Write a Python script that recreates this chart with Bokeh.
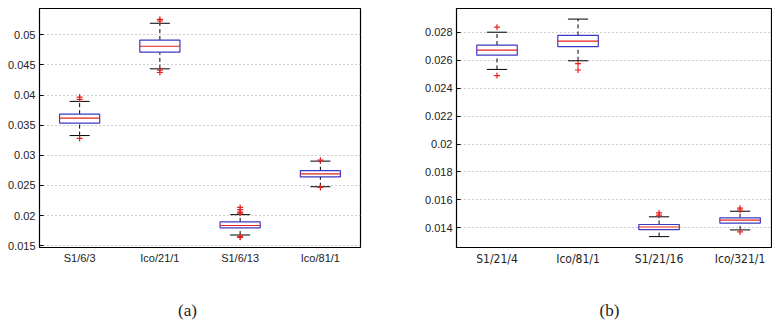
from bokeh.plotting import figure
from bokeh.layouts import row, column
from bokeh.models import FixedTicker, ColumnDataSource, Range1d
from bokeh.core.properties import value
from bokeh.embed import file_html
from bokeh.resources import INLINE

# ---------------- data: panel (a) ----------------
cats_a = ["S1/6/3", "Ico/21/1", "S1/6/13", "Ico/81/1"]
lower_a = [0.03328, 0.04435, 0.01678, 0.02479]
q1_a = [0.03536, 0.04712, 0.01797, 0.02642]
med_a = [0.03618, 0.04810, 0.01836, 0.02691]
q3_a = [0.03683, 0.04913, 0.01895, 0.02745]
upper_a = [0.03895, 0.05191, 0.02016, 0.02904]
out_idx_a = [1, 1, 1, 2, 2, 2, 2, 3, 3, 3, 3, 3, 3, 4, 4]
out_val_a = [0.03966, 0.03930, 0.03280, 0.05257, 0.05229, 0.04412, 0.04374,
             0.02136, 0.02098, 0.02059, 0.02040, 0.01640, 0.01650, 0.02920, 0.02467]
yticks_a = [0.015, 0.02, 0.025, 0.03, 0.035, 0.04, 0.045, 0.05]
ylabels_a = ["0.015", "0.02", "0.025", "0.03", "0.035", "0.04", "0.045", "0.05"]

# ---------------- data: panel (b) ----------------
cats_b = ["S1/21/4", "Ico/81/1", "S1/21/16", "Ico/321/1"]
lower_b = [0.02535, 0.02597, 0.01336, 0.01384]
q1_b = [0.02637, 0.02698, 0.01386, 0.01433]
med_b = [0.02673, 0.02738, 0.01405, 0.01454]
q3_b = [0.02710, 0.02779, 0.01423, 0.01471]
upper_b = [0.02802, 0.02896, 0.01478, 0.01518]
out_idx_b = [1, 1, 2, 2, 3, 3, 4, 4, 4]
out_val_b = [0.02838, 0.02491, 0.02576, 0.02531, 0.01506, 0.01490, 0.01540, 0.01527, 0.01370]
yticks_b = [0.014, 0.016, 0.018, 0.020, 0.022, 0.024, 0.026, 0.028]
ylabels_b = ["0.014", "0.016", "0.018", "0.02", "0.022", "0.024", "0.026", "0.028"]

# ---------------- sub-figure captions ----------------
captions = ["(a)", "(b)"]

BOX_HALF = 0.25
CAP_HALF = 0.125
BLUE = "#3a3ac4"
RED = "#e8201c"


def panel(cats, lower, q1, med, q3, upper, oi, ov, yt, yl, yr, xr, w, h,
          bl, br, bt, bb, xfont, xsize):
    p = figure(width=w, height=h, output_backend="svg", toolbar_location=None,
               x_range=Range1d(*xr), y_range=Range1d(*yr),
               min_border_left=bl, min_border_right=br,
               min_border_top=bt, min_border_bottom=bb)
    xs = list(range(1, len(cats) + 1))
    src = ColumnDataSource(dict(
        x=xs, l=[x - BOX_HALF for x in xs], r=[x + BOX_HALF for x in xs],
        cl=[x - CAP_HALF for x in xs], cr=[x + CAP_HALF for x in xs],
        lower=lower, q1=q1, med=med, q3=q3, upper=upper))
    # whiskers
    p.segment(x0="x", y0="q3", x1="x", y1="upper", source=src,
              line_color="black", line_width=1, line_dash="4 3")
    p.segment(x0="x", y0="lower", x1="x", y1="q1", source=src,
              line_color="black", line_width=1, line_dash="4 3")
    # caps
    p.segment(x0="cl", y0="upper", x1="cr", y1="upper", source=src,
              line_color="black", line_width=1)
    p.segment(x0="cl", y0="lower", x1="cr", y1="lower", source=src,
              line_color="black", line_width=1)
    # boxes
    p.quad(left="l", right="r", bottom="q1", top="q3", source=src,
           fill_color="white", line_color=BLUE, line_width=1.2)
    # medians
    p.segment(x0="l", y0="med", x1="r", y1="med", source=src,
              line_color=RED, line_width=1.2)
    # outliers
    p.scatter(oi, ov, marker="cross", size=6, line_color=RED, line_width=1.2)

    p.xgrid.visible = False
    p.ygrid.grid_line_color = "#9a9a9a"
    p.ygrid.grid_line_dash = "1 3"
    p.ygrid.ticker = FixedTicker(ticks=yt)
    p.outline_line_color = "black"
    p.outline_line_width = 1.2
    p.outline_line_alpha = 1

    p.yaxis.ticker = FixedTicker(ticks=yt)
    p.yaxis.major_label_overrides = {t: s for t, s in zip(yt, yl)}
    p.yaxis.major_tick_in = 4
    p.yaxis.major_tick_out = 0
    p.yaxis.minor_tick_line_color = None
    p.yaxis.minor_tick_in = 0
    p.yaxis.minor_tick_out = 0
    p.yaxis.axis_line_color = None
    p.yaxis.major_label_text_font = "Liberation Sans"
    p.yaxis.major_label_text_font_size = "11px"
    p.yaxis.major_label_text_color = "#222222"
    p.yaxis.major_label_standoff = 4

    p.xaxis.ticker = FixedTicker(ticks=xs)
    p.xaxis.major_label_overrides = {x: c for x, c in zip(xs, cats)}
    p.xaxis.major_tick_line_color = None
    p.xaxis.major_tick_in = 0
    p.xaxis.major_tick_out = 0
    p.xaxis.minor_tick_line_color = None
    p.xaxis.minor_tick_in = 0
    p.xaxis.minor_tick_out = 0
    p.xaxis.axis_line_color = None
    p.xaxis.major_label_text_font = xfont
    p.xaxis.major_label_text_font_size = xsize
    p.xaxis.major_label_text_color = "#222222"
    p.xaxis.major_label_standoff = 4
    return p


pa = panel(cats_a, lower_a, q1_a, med_a, q3_a, upper_a, out_idx_a, out_val_a,
           yticks_a, ylabels_a, (0.01471, 0.05436), (0.5, 4.5), 386, 290,
           39, 26, 4, 43, "Liberation Sans", "11px")
pb = panel(cats_b, lower_b, q1_b, med_b, q3_b, upper_b, out_idx_b, out_val_b,
           yticks_b, ylabels_b, (0.01258, 0.02972), (0.5, 4.40), 386, 290,
           70, 0, 8, 40, "DejaVu Sans Condensed", "12px")

# caption strip (pixel-unit coordinates)
cap = figure(width=772, height=36, output_backend="svg", toolbar_location=None,
             x_range=Range1d(0, 772), y_range=Range1d(0, 36),
             min_border=0)
cap.axis.visible = False
cap.grid.visible = False
cap.outline_line_color = None
cap.text(x=[187, 609], y=[16, 16], text=captions, text_align="center",
         text_baseline="middle", text_font=value("Liberation Serif"),
         text_font_size="17px", text_color="#222222")

layout = column(row(pa, pb), cap)
open("out.html", "w").write(file_html(layout, INLINE))
